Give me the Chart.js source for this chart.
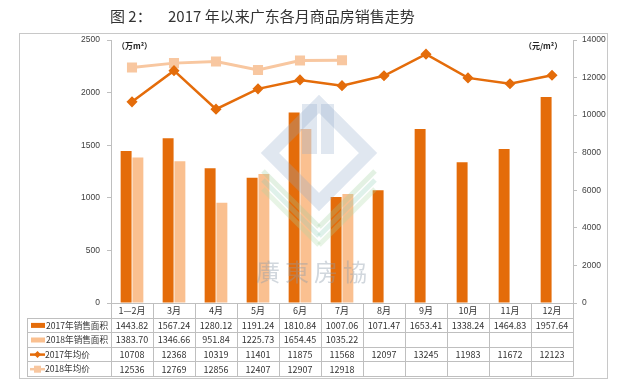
<!DOCTYPE html>
<html>
<head>
<meta charset="utf-8">
<script src="https://cdn.jsdelivr.net/npm/chart.js@4.4.0/dist/chart.umd.min.js"></script>
<style>
	html, body { margin: 0; padding: 0; background: #fff; }
</style>
</head>
<body>
<canvas id="myChart" width="630" height="384"></canvas>
<script>
const months = ['1—2月', '3月', '4月', '5月', '6月', '7月', '8月', '9月', '10月', '11月', '12月'];
const area2017 = [1443.82, 1567.24, 1280.12, 1191.24, 1810.84, 1007.06, 1071.47, 1653.41, 1338.24, 1464.83, 1957.64];
const area2018 = [1383.70, 1346.66, 951.84, 1225.73, 1654.45, 1035.22, null, null, null, null, null];
const price2017 = [10708, 12368, 10319, 11401, 11875, 11568, 12097, 13245, 11983, 11672, 12123];
const price2018 = [12536, 12769, 12856, 12407, 12907, 12918, null, null, null, null, null];
const areaTicks = [0, 500, 1000, 1500, 2000, 2500];
const priceTicks = [0, 2000, 4000, 6000, 8000, 10000, 12000, 14000];

const dark = '#E46C0A';
const light = '#FAC090';
const lineLight = '#F8C7A0';
const grey = '#BFBFBF';
const cjk = '"Noto Sans CJK SC", "Noto Sans", sans-serif';

const rows = [
	{ label: '2017年销售面积', values: area2017, kind: 'bar', color: dark, fmt: v => v.toFixed(2) },
	{ label: '2018年销售面积', values: area2018, kind: 'bar', color: light, fmt: v => v.toFixed(2) },
	{ label: '2017年均价', values: price2017, kind: 'line', color: dark, marker: 'diamond', fmt: v => String(v) },
	{ label: '2018年均价', values: price2018, kind: 'line', color: lineLight, marker: 'square', fmt: v => String(v) }
];

function line(ctx, x1, y1, x2, y2) {
	ctx.beginPath();
	ctx.moveTo(x1, y1);
	ctx.lineTo(x2, y2);
	ctx.stroke();
}

const sheet = {
	id: 'sheet',
	beforeDraw(chart) {
		const ctx = chart.ctx;
		ctx.save();
		ctx.fillStyle = '#fff';
		ctx.fillRect(0, 0, chart.width, chart.height);
		ctx.strokeStyle = '#C8C8C8';
		ctx.lineWidth = 1;
		ctx.strokeRect(19.5, 33.5, 588, 345);
		ctx.restore();
	},
	afterDatasetsDraw(chart) {
		// faint watermark logo
		const ctx = chart.ctx;
		ctx.save();
		ctx.globalAlpha = 0.28;
		ctx.strokeStyle = '#8FA9C8';
		ctx.lineWidth = 13;
		ctx.beginPath();
		ctx.moveTo(319, 104); ctx.lineTo(270, 153); ctx.lineTo(319, 202); ctx.lineTo(368, 153); ctx.closePath();
		ctx.stroke();
		ctx.fillStyle = '#8FA9C8';
		ctx.fillRect(302, 104, 15, 50);
		ctx.fillRect(321, 104, 13, 50);
		const stripes = ['#9ACD9A', '#8CCDB4', '#A8D8A0'];
		ctx.lineWidth = 5;
		stripes.forEach((c, i) => {
			ctx.strokeStyle = c;
			const d = 18 + i * 9;
			line(ctx, 263, 153 + d, 319, 209 + d);
			line(ctx, 319, 209 + d, 375, 153 + d);
		});
		ctx.globalAlpha = 0.4;
		ctx.fillStyle = '#8C9AAA';
		ctx.font = '24px ' + cjk;
		ctx.textAlign = 'left';
		ctx.textBaseline = 'middle';
		const chars = '廣東房協';
		for (let i = 0; i < chars.length; i++) ctx.fillText(chars[i], 256 + i * 29, 272);
		ctx.restore();
	},
	afterDraw(chart) {
		const ctx = chart.ctx;
		const x = chart.scales.x;
		const top = chart.chartArea.bottom;
		const n = months.length;
		const cw = (x.right - x.left) / n;
		const rowH = 14.6;
		const tblLeft = 27;
		ctx.save();

		// title
		ctx.fillStyle = '#333';
		ctx.font = '15px ' + cjk;
		ctx.textAlign = 'left';
		ctx.textBaseline = 'middle';
		ctx.fillText('图 2：', 110, 16);
		ctx.fillText('2017 年以来广东各月商品房销售走势', 168, 16);

		// axis units
		ctx.font = 'bold 8px ' + cjk;
		ctx.fillStyle = '#222';
		ctx.fillText('（万m²）', 117, 46);
		ctx.fillText('（元/m²）', 524, 46);

		// data table grid
		ctx.strokeStyle = grey;
		ctx.lineWidth = 1;
		for (let r = 1; r <= 5; r++) {
			const y = Math.round(top + r * rowH) + 0.5;
			line(ctx, tblLeft, y, x.right, y);
		}
		for (let i = 0; i <= n; i++) {
			const xx = Math.round(x.left + i * cw) + 0.5;
			line(ctx, xx, top, xx, Math.round(top + 5 * rowH) + 0.5);
		}
		line(ctx, tblLeft + 0.5, Math.round(top + rowH) + 0.5, tblLeft + 0.5, Math.round(top + 5 * rowH) + 0.5);

		// header row
		ctx.fillStyle = '#333';
		ctx.font = '9px ' + cjk;
		ctx.textAlign = 'center';
		months.forEach((m, i) => ctx.fillText(m, x.getPixelForTick(i), top + rowH / 2 + 0.5));

		// series rows
		rows.forEach((row, r) => {
			const y = top + rowH * (r + 1.5) + 0.5;
			ctx.fillStyle = row.color;
			ctx.strokeStyle = row.color;
			if (row.kind === 'bar') {
				ctx.fillRect(31, y - 2.5, 14, 5);
			} else {
				ctx.lineWidth = 2.5;
				line(ctx, 30, y, 45, y);
				if (row.marker === 'diamond') {
					ctx.beginPath();
					ctx.moveTo(37.5, y - 3.5); ctx.lineTo(41, y); ctx.lineTo(37.5, y + 3.5); ctx.lineTo(34, y); ctx.closePath();
					ctx.fill();
				} else {
					ctx.fillRect(34, y - 3.5, 7, 7);
				}
			}
			ctx.fillStyle = '#333';
			ctx.textAlign = 'left';
			ctx.font = '8.6px ' + cjk;
			ctx.fillText(row.label, row.kind === 'bar' ? 46 : 45, y);
			ctx.font = '9px ' + cjk;
			ctx.textAlign = 'center';
			row.values.forEach((v, i) => {
				if (v === null) return;
				ctx.fillText(row.fmt(v), x.getPixelForTick(i), y);
			});
		});
		ctx.restore();
	}
};

const ctx = document.getElementById('myChart');
new Chart(ctx, {
	type: 'bar',
	data: {
		labels: months,
		datasets: [{
			label: '2017年销售面积',
			data: area2017,
			backgroundColor: dark,
			yAxisID: 'y',
			order: 2,
			categoryPercentage: 0.56,
			barPercentage: 0.93
		}, {
			label: '2018年销售面积',
			data: area2018,
			backgroundColor: light,
			yAxisID: 'y',
			order: 2,
			categoryPercentage: 0.56,
			barPercentage: 0.93
		}, {
			type: 'line',
			label: '2017年均价',
			data: price2017,
			borderColor: dark,
			backgroundColor: dark,
			borderWidth: 2.5,
			pointStyle: 'rectRot',
			pointRadius: 3.8,
			yAxisID: 'y1',
			order: 0
		}, {
			type: 'line',
			label: '2018年均价',
			data: price2018,
			borderColor: lineLight,
			backgroundColor: lineLight,
			borderWidth: 3,
			pointStyle: 'rect',
			pointRadius: 5,
			spanGaps: false,
			yAxisID: 'y1',
			order: 1
		}]
	},
	options: {
		responsive: false,
		animation: false,
		layout: {
			padding: { left: 19, right: 20, top: 40, bottom: 81 }
		},
		plugins: {
			legend: { display: false },
			tooltip: { enabled: false }
		},
		scales: {
			x: {
				offset: true,
				grid: { display: false, drawTicks: false },
				ticks: { display: false },
				border: { display: true, color: grey }
			},
			y: {
				position: 'left',
				min: 0,
				max: 2500,
				afterBuildTicks: s => { s.ticks = areaTicks.map(v => ({ value: v })); },
				afterFit: s => { s.width = 92; },
				grid: { drawOnChartArea: false, tickLength: 4, color: grey },
				border: { color: grey },
				ticks: { padding: 7, color: '#404040', font: { size: 8.5, family: 'Liberation Sans' }, callback: v => String(v) }
			},
			y1: {
				position: 'right',
				min: 0,
				max: 14000,
				afterBuildTicks: s => { s.ticks = priceTicks.map(v => ({ value: v })); },
				afterFit: s => { s.width = 37; },
				grid: { drawOnChartArea: false, tickLength: 4, color: grey },
				border: { color: grey },
				ticks: { padding: 5, color: '#404040', font: { size: 8.5, family: 'Liberation Sans' }, callback: v => String(v) }
			}
		}
	},
	plugins: [sheet]
});
</script>
</body>
</html>
